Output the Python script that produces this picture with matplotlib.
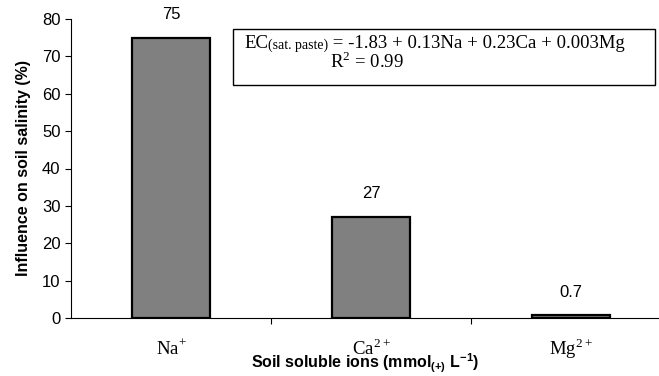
import matplotlib
matplotlib.use("Agg")
import matplotlib.pyplot as plt

plt.rcParams['font.family'] = ['Liberation Sans', 'DejaVu Sans']
plt.rcParams['mathtext.fontset'] = 'custom'
plt.rcParams['mathtext.rm'] = 'Liberation Serif'
plt.rcParams['mathtext.bf'] = 'Liberation Sans:bold'

ions = ["Na$^{+}$", "Ca$^{2+}$", "Mg$^{2+}$"]
influence = [75, 27, 0.7]
bar_labels = ["75", "27", "0.7"]

fig = plt.figure(figsize=(6.59, 3.76), dpi=100)
ax = fig.add_axes([71/659, 58/376, (659-71)/659, (318-19)/376])

x = list(range(len(ions)))
ax.bar(x, influence, width=0.39, color="#808080", edgecolor="black", linewidth=1.6)
for xi, v, lab in zip(x, influence, bar_labels):
    ax.text(xi, v + 4.2, lab, ha="center", va="bottom", fontsize=12)

ax.set_xlim(-0.5, 2.44)
ax.set_ylim(0, 80)
ax.set_yticks(range(0, 81, 10))
ax.tick_params(axis="y", direction="out", length=4, labelsize=12, width=0.8)
ax.set_xticks([0.5, 1.5])
ax.set_xticklabels([])
ax.tick_params(axis="x", direction="out", length=4, width=0.8)
for xi, lab in zip(x, ions):
    ax.text(xi, -8.3, lab, ha="center", va="center", fontsize=13.5,
            family="Liberation Serif", clip_on=False)

ax.spines["top"].set_visible(False)
ax.spines["right"].set_visible(False)
ax.set_ylabel("Influence on soil salinity (%)", fontsize=11.5, fontweight="bold", labelpad=8)
ax.set_xlabel(r"Soil soluble ions (mmol$_{\mathbf{(+)}}$ L$^{\mathbf{-1}}$)",
              fontsize=11.5, fontweight="bold", labelpad=17)

# equation box
box = plt.Rectangle((233/659, 1 - 85/376), (655-233)/659, (85-29)/376,
                    transform=fig.transFigure, facecolor="white", edgecolor="black",
                    linewidth=1.0, clip_on=False, zorder=5)
ax.add_artist(box)
t1 = ax.text(244/659, 1 - 48/376, "EC", fontsize=13.5, family="Liberation Serif",
             va="baseline", transform=fig.transFigure, zorder=6)
t2 = ax.annotate("(sat. paste)", xy=(1, 0), xycoords=t1, fontsize=10,
                 family="Liberation Serif", va="bottom", zorder=6)
ax.annotate(" = -1.83 + 0.13Na + 0.23Ca + 0.003Mg", xy=(1, 0), xycoords=t2,
            fontsize=13.5, family="Liberation Serif", va="bottom", zorder=6)
ax.text(330/659, 1 - 68/376, "R$^{2}$ = 0.99", fontsize=13.5,
        family="Liberation Serif", va="baseline", transform=fig.transFigure, zorder=6)

fig.savefig("out.png", dpi=100)
